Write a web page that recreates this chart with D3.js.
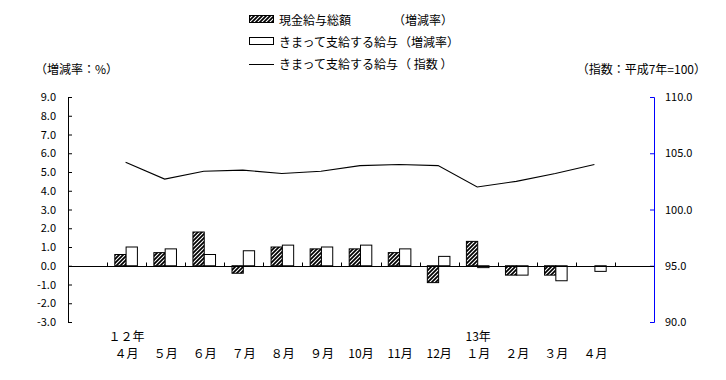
<!DOCTYPE html>
<html><head><meta charset="utf-8">
<script src="https://cdn.jsdelivr.net/npm/d3@7"></script>
<style>
html,body{margin:0;padding:0;background:#fff;}
svg{display:block;}
text{font-family:"Noto Sans CJK JP","DejaVu Sans",sans-serif;fill:#000;}
</style></head><body>
<script>
const categories = ["12-4","12-5","12-6","12-7","12-8","12-9","12-10","12-11","12-12","13-1","13-2","13-3","13-4"];
const monthLabels = ["４月","５月","６月","７月","８月","９月","10月","11月","12月","１月","２月","３月","４月"];
const yearLabels = [{i:0,t:"１２年"},{i:9,t:"13年"}];
const cashTotal = [0.6,0.7,1.8,-0.4,1.0,0.9,0.9,0.7,-0.9,1.3,-0.5,-0.5,null];
const regularRate = [1.0,0.9,0.6,0.8,1.1,1.0,1.1,0.9,0.5,-0.1,-0.5,-0.8,-0.3];
const regularIndex = [104.2,102.7,103.4,103.5,103.2,103.4,103.9,104.0,103.9,102.0,102.5,103.2,104.0];
const leftTicks = [-3,-2,-1,0,1,2,3,4,5,6,7,8,9];
const rightTicks = [90,95,100,105,110];
const legendItems = ["現金給与総額","きまって支給する給与","きまって支給する給与"];
const legendSuffix = ["（増減率）","（増減率）","（ 指数 ）"];

const W=726,H=380;
const L=68,R=654,T=97,B=322;
const svg=d3.select("body").append("svg").attr("width",W).attr("height",H);
const defs=svg.append("defs");
const pat=defs.append("pattern").attr("id","hatch").attr("patternUnits","userSpaceOnUse").attr("width",4).attr("height",4);
pat.append("rect").attr("width",4).attr("height",4).attr("fill","#000");
pat.append("path").attr("d","M-1,1 L1,-1 M0,4 L4,0 M3,5 L5,3").attr("stroke","#fff").attr("stroke-width",1.1);

const step=(R-L)/15;
const x=d3.scaleBand().domain(categories).range([L+step,R-step]).paddingInner(0).paddingOuter(0);
const yL=d3.scaleLinear().domain([-3,9]).range([B,T]);
const yR=d3.scaleLinear().domain([90,110]).range([B,T]);
const bw=11.3;

// left axis
const gl=svg.append("g").attr("transform",`translate(${L},0)`)
  .call(d3.axisLeft(yL).tickValues(leftTicks).tickSize(-4).tickPadding(10).tickFormat(d3.format(".1f")));
gl.selectAll("path").attr("stroke","#000").attr("d",`M4,${T+0.5}H0.5V${B+0.5}H4`);
gl.selectAll("line").attr("stroke","#000");
gl.selectAll("text").attr("font-size","11px").attr("font-family","'DejaVu Sans',sans-serif").attr("x",-12).text(d=>d3.format(".1f")(d).replace("−","-"));

// right axis
const gr=svg.append("g").attr("transform",`translate(${R},0)`)
  .call(d3.axisRight(yR).tickValues(rightTicks).tickSize(-4).tickPadding(10).tickFormat(d3.format(".1f")));
gr.selectAll("path").attr("stroke","#0000ff").attr("d",`M-4,${T+0.5}H0.5V${B+0.5}H-4`);
gr.selectAll("line").attr("stroke","#0000ff");
gr.selectAll("text").attr("font-size","11px").attr("font-family","'DejaVu Sans',sans-serif").attr("x",11);

// bars
const gb=svg.append("g");
categories.forEach((c,i)=>{
  const cx=x(c)+x.bandwidth()/2;
  const v1=cashTotal[i], v2=regularRate[i];
  if(v1!==null){
    gb.append("rect").attr("x",cx-bw-0.5).attr("y",Math.min(yL(v1),yL(0))).attr("width",bw).attr("height",Math.abs(yL(v1)-yL(0)))
      .attr("fill","url(#hatch)").attr("stroke","#000").attr("stroke-width",1);
  }
  if(v2!==null){
    gb.append("rect").attr("x",cx-0.5).attr("y",Math.min(yL(v2),yL(0))).attr("width",bw).attr("height",Math.abs(yL(v2)-yL(0)))
      .attr("fill","#fff").attr("stroke","#000").attr("stroke-width",1);
  }
});

// zero line with category ticks
const y0=Math.round(yL(0))+0.5;
svg.append("line").attr("x1",L).attr("x2",R).attr("y1",y0).attr("y2",y0).attr("stroke","#000").attr("stroke-width",1.2);
const bounds=categories.map(c=>x(c)).concat([x(categories[categories.length-1])+x.bandwidth()]);
svg.selectAll(".ct").data(bounds).enter().append("line")
  .attr("x1",d=>Math.round(d)+0.5).attr("x2",d=>Math.round(d)+0.5).attr("y1",y0-4).attr("y2",y0).attr("stroke","#000");

// index line
const line=d3.line().x((d,i)=>x(categories[i])+x.bandwidth()/2-1).y(d=>yR(d));
svg.append("path").datum(regularIndex).attr("d",line).attr("fill","none").attr("stroke","#000").attr("stroke-width",1.1);

// x labels
svg.selectAll(".ml").data(monthLabels).enter().append("text")
  .attr("x",(d,i)=>x(categories[i])+x.bandwidth()/2).attr("y",358).attr("text-anchor","middle").attr("font-size","12px").text(d=>d);
svg.selectAll(".yl").data(yearLabels).enter().append("text")
  .attr("x",d=>x(categories[d.i])+x.bandwidth()/2).attr("y",341).attr("text-anchor","middle").attr("font-size","12px").text(d=>d.t);

// axis titles
svg.append("text").attr("x",35).attr("y",74).attr("font-size","12px").text("（増減率：%）");
svg.append("text").attr("x",706).attr("y",74).attr("text-anchor","end").attr("font-size","12px").text("（指数：平成7年=100）");

// legend
const lx=249, ly=[20,42,64];
svg.append("rect").attr("x",lx+0.5).attr("y",ly[0]-4.5).attr("width",24).attr("height",7).attr("fill","url(#hatch)").attr("stroke","#000");
svg.append("rect").attr("x",lx+0.5).attr("y",ly[1]-4.5).attr("width",24).attr("height",7).attr("fill","#fff").attr("stroke","#000");
svg.append("line").attr("x1",lx).attr("x2",lx+25).attr("y1",ly[2]+0.5).attr("y2",ly[2]+0.5).attr("stroke","#000");
legendItems.forEach((t,i)=>{
  svg.append("text").attr("x",279).attr("y",ly[i]+4.5).attr("font-size","12px").text(t);
});
svg.append("text").attr("x",453).attr("y",ly[0]+4.5).attr("text-anchor","end").attr("font-size","12px").text(legendSuffix[0]);
svg.append("text").attr("x",399).attr("y",ly[1]+4.5).attr("font-size","12px").text(legendSuffix[1]);
svg.append("text").attr("x",399).attr("y",ly[2]+4.5).attr("font-size","12px").text(legendSuffix[2]);
</script>
</body></html>
